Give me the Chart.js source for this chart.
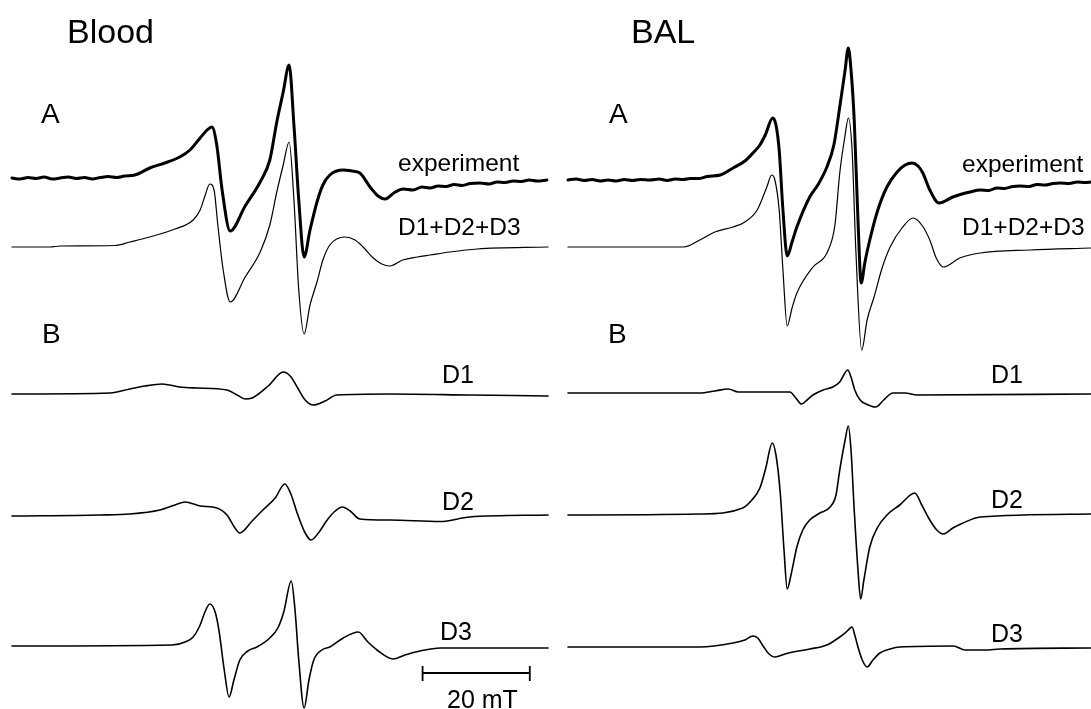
<!DOCTYPE html>
<html>
<head>
<meta charset="utf-8">
<script src="https://cdn.jsdelivr.net/npm/chart.js@4/dist/chart.umd.min.js"></script>
<style>
  html, body { margin: 0; padding: 0; background: #fff; }
  #wrap { position: relative; width: 1091px; height: 709px; }
</style>
</head>
<body>
<div id="wrap"><canvas id="epr" width="1091" height="709"></canvas></div>
<script>
// EPR spectra, field in mT (relative to start of sweep), amplitude in a.u.

// ---- Blood ----
let bloodExpField = [0, 1.5, 3, 4.5, 6, 7.5, 9, 10.5, 12, 13.5, 15, 16.5, 18, 19.5, 21, 22.9, 25.7, 28.5, 31.3, 33.2, 35.1, 36.4, 37.3, 38.2, 39.2, 40.7, 43.5, 46.3, 48.1, 49.4, 50.6, 51.7, 52.6, 53.5, 54.5, 55.6, 56.9, 58.0, 59.3, 61.8, 63.4, 64.9, 66.8, 68.3, 69.6, 71.5, 73, 74.8, 76.5, 78, 79.5, 81, 82.5, 84, 85.5, 87.3, 89, 90.5, 92, 93.5, 95, 96.5, 98, 99.8]
let bloodExpAmp   = [0, -1, 0.5, -0.5, 1, -1, 0, 1, -0.5, 0.5, -1, 0.5, 1.5, 0.5, 2, 3, 10, 15, 21, 28, 40, 48, 51, 33, -12, -53, -28, -4, 18, 56, 86, 113, 53, -22, -79, -52, -24, -7, 3, 8, 7, 5, -9, -18, -21, -14, -11, -12, -9, -10, -8, -8.5, -6.5, -7.5, -5.5, -5, -6, -4, -4.5, -3, -3.5, -2, -3, -2]

let bloodFitField = [0, 7.1, 9.0, 19.2, 22.0, 25.7, 30.4, 33.8, 35.1, 36.0, 36.9, 37.7, 38.4, 39.4, 40.7, 43.5, 46.3, 48.1, 49.4, 50.6, 51.7, 52.6, 53.5, 54.5, 55.6, 56.9, 58.0, 59.3, 62.1, 64.0, 65.5, 67.4, 69.0, 70.5, 72.9, 75.6, 78.0, 81.7, 86.8, 100]
let bloodFitAmp   = [0, 0, 1, 1.5, 5, 10, 18, 27, 37, 51, 63, 57, 22, -23, -55, -30, -5, 22, 55, 82, 105, 47, -43, -87, -58, -35, -13, 2, 10, 7, 0, -11, -17, -19, -13, -10, -8, -5, -2, 0]

let bloodD1Field = [0, 18.3, 22.0, 24.8, 28.0, 31.3, 34.5, 40.1, 42.0, 43.5, 44.8, 47.8, 50.6, 51.9, 53.2, 54.7, 56.2, 58.4, 60.6, 70.5, 85.4, 100]
let bloodD1Amp   = [-1, 0, 4, 7, 9, 6, 5, 3, -2, -6, -5, 7, 21, 17, 6, -7, -12, -8, -2, -1, -2, -3]

let bloodD2Field = [0, 16.4, 22.0, 27.6, 30.4, 32.3, 35.1, 38.2, 40.1, 41.6, 42.5, 44.8, 46.8, 49.1, 50.9, 52.1, 53.2, 54.7, 55.8, 57.3, 58.8, 60.3, 61.6, 63.1, 64.9, 70.5, 79.9, 85.4, 100]
let bloodD2Amp   = [-1, 0, 1, 5, 10, 13, 9, 7, 0, -13, -18, -6, 5, 17, 31, 20, 2, -18, -25, -17, -5, 4, 8, 4, -4, -5, -6.5, -2, 0]

let bloodD3Field = [0, 29.9, 32.3, 33.8, 35.1, 36.0, 36.9, 37.9, 38.6, 39.6, 40.5, 41.4, 42.5, 44.0, 45.7, 48.1, 49.6, 50.7, 52.1, 52.8, 53.5, 54.5, 55.4, 56.3, 57.8, 59.3, 61.8, 64.6, 66.4, 68.1, 71.1, 73.3, 76.1, 79.9, 100]
let bloodD3Amp   = [0, 1, 4, 9, 21, 34, 42, 34, 16, -24, -51, -34, -14, -5, -1, 8, 18, 34, 65, 36, -14, -62, -34, -14, -4, -1, 8, 14, 4, -4, -13, -9, -5, -2, -2]

// ---- BAL ----
let balExpField = [0, 1.5, 3, 4.5, 6, 7.5, 9, 10.5, 12, 13.5, 15.3, 17, 18.5, 20, 21.5, 22.8, 24.5, 26, 28.4, 30.8, 33.0, 34.5, 35.8, 36.8, 38.2, 38.8, 39.4, 40.1, 40.9, 41.8, 42.7, 45.1, 46.6, 48.3, 49.6, 50.7, 51.7, 52.3, 52.8, 53.4, 54.1, 54.7, 55.4, 56.3, 57.8, 59.5, 61.4, 62.9, 64.2, 65.3, 66.2, 67.5, 69.2, 71.8, 73.5, 75, 76.9, 78.5, 80, 81.5, 83, 84.3, 86, 87.5, 89, 90.5, 91.8, 93.5, 95, 96.5, 97.6]
let balExpAmp   = [0, 1, -0.5, 0.5, -1, 0, -1, 0.5, -0.5, 0.5, 0, 1, -0.5, 1, 0.5, 1.5, 1.5, 3.5, 5, 12, 19, 27, 35, 45, 62, 55, 30, -30, -76, -62, -47, -17, -5, 13, 35, 73, 110, 132, 110, 60, -40, -103, -82, -60, -30, -7, 8, 15, 17, 14, 7, -10, -23, -17, -14, -12, -10, -10.5, -8, -8.5, -6.5, -6, -6.5, -4.5, -5, -3.5, -3, -3.5, -2, -2.5, -2]

let balFitField = [0, 21.6, 24.6, 27.4, 30.8, 33.0, 35.3, 37.1, 38.0, 38.6, 39.4, 40.1, 40.9, 41.8, 42.7, 45.7, 48.3, 49.8, 50.7, 51.7, 52.3, 53.0, 53.7, 54.8, 55.8, 57.1, 58.6, 60.1, 62.3, 64.4, 66.0, 67.5, 68.7, 70.0, 73.1, 76.9, 86.2, 97.6]
let balFitAmp   = [0, 0, 7, 15, 20, 25, 37, 60, 72, 67, 37, -23, -79, -61, -46, -20, -6, 22, 74, 112, 129, 97, -3, -103, -73, -50, -21, 0, 19, 29, 22, 7, -11, -20, -11, -6, -3, -1]

let balD1Field = [0, 24.6, 27.4, 29.9, 31.8, 41.4, 42.5, 43.6, 44.6, 45.7, 47.6, 49.4, 50.7, 52.2, 52.8, 53.5, 54.5, 55.6, 57.4, 58.9, 60.6, 62.9, 65.1, 97.6]
let balD1Amp   = [0, 0, 2, 4, 1, 1, -5, -11, -7, -2, 3, 6, 11, 23, 16, 3, -7, -11, -14, -7, 0, 0, -2, -1]

let balD2Field = [0, 24.6, 32.6, 34.3, 35.8, 36.9, 38.1, 38.8, 39.6, 40.3, 40.9, 41.6, 42.7, 43.8, 45.1, 47.0, 48.9, 50.0, 50.7, 51.7, 52.3, 52.8, 53.4, 54.1, 54.6, 55.2, 56.3, 57.8, 59.5, 61.9, 64.7, 66.0, 67.5, 68.8, 70.0, 71.8, 73.7, 76.9, 97.6]
let balD2Amp   = [0, 1, 7, 15, 27, 47, 72, 60, 22, -35, -74, -60, -32, -15, -5, 2, 8, 20, 45, 75, 89, 65, 5, -55, -84, -65, -32, -12, 0, 10, 22, 10, -5, -15, -19, -13, -8, -2, 1]

let balD3Field = [0, 24.6, 30.8, 33.0, 34.5, 35.4, 36.4, 37.5, 38.6, 40.5, 42.0, 45.1, 48.3, 50.7, 51.9, 53.0, 53.5, 54.1, 54.9, 55.8, 56.9, 58.2, 60.1, 61.9, 71.9, 74.1, 77.8, 80.6, 97.6]
let balD3Amp   = [0, 0, 4, 7, 11, 9, 1, -7, -10, -7, -5, -2, 2, 10, 15, 20, 12, 0, -13, -20, -13, -6, -2, 0, 1, -3, -3, -2, -1]

// scale bar (mT)
let scaleBarStart = 76.6
let scaleBarLength = 20

// ---- layout: vertical offsets of each trace (px from top) ----
let bloodOffsets = { exp: 178, fit: 247, d1: 393, d2: 515, d3: 646 }
let balOffsets   = { exp: 180, fit: 247, d1: 393, d2: 515, d3: 647 }
let pxPerMT = 5.36
let bloodLeft = 12
let balLeft = 568
let W = 1091, H = 709

function trace(field, amp, offset, axis, width) {
    return {
        data: field.map((b, i) => ({ x: b, y: offset - amp[i] })),
        xAxisID: axis,
        borderColor: '#000',
        borderWidth: width,
        pointRadius: 0,
        fill: false,
        cubicInterpolationMode: 'monotone',
        borderJoinStyle: 'round',
        borderCapStyle: 'round'
    }
}

function straight(points, width) {
    return {
        data: points,
        xAxisID: 'xL',
        borderColor: '#000',
        borderWidth: width,
        pointRadius: 0,
        fill: false,
        tension: 0
    }
}

let datasets = [
    trace(bloodExpField, bloodExpAmp, bloodOffsets.exp, 'xL', 3),
    trace(bloodFitField, bloodFitAmp, bloodOffsets.fit, 'xL', 1.2),
    trace(bloodD1Field, bloodD1Amp, bloodOffsets.d1, 'xL', 1.6),
    trace(bloodD2Field, bloodD2Amp, bloodOffsets.d2, 'xL', 1.6),
    trace(bloodD3Field, bloodD3Amp, bloodOffsets.d3, 'xL', 1.6),
    trace(balExpField, balExpAmp, balOffsets.exp, 'xR', 3),
    trace(balFitField, balFitAmp, balOffsets.fit, 'xR', 1.2),
    trace(balD1Field, balD1Amp, balOffsets.d1, 'xR', 1.6),
    trace(balD2Field, balD2Amp, balOffsets.d2, 'xR', 1.6),
    trace(balD3Field, balD3Amp, balOffsets.d3, 'xR', 1.6),
    // 20 mT scale bar
    straight([{ x: scaleBarStart, y: 673 }, { x: scaleBarStart + scaleBarLength, y: 673 }], 1.8),
    straight([{ x: scaleBarStart, y: 666 }, { x: scaleBarStart, y: 681 }], 1.8),
    straight([{ x: scaleBarStart + scaleBarLength, y: 666 }, { x: scaleBarStart + scaleBarLength, y: 681 }], 1.8)
]

// text labels drawn on top
let labels = [
    { t: 'Blood', x: 67, y: 43, s: 34 },
    { t: 'BAL', x: 631, y: 43, s: 34 },
    { t: 'A', x: 41, y: 123, s: 28 },
    { t: 'B', x: 42, y: 343, s: 28 },
    { t: 'A', x: 609, y: 123, s: 28 },
    { t: 'B', x: 608, y: 343, s: 28 },
    { t: 'experiment', x: 398, y: 171, s: 24.5 },
    { t: 'D1+D2+D3', x: 398, y: 235, s: 24.5 },
    { t: 'experiment', x: 962, y: 172, s: 24.5 },
    { t: 'D1+D2+D3', x: 962, y: 235, s: 24.5 },
    { t: 'D1', x: 442, y: 383, s: 25 },
    { t: 'D2', x: 442, y: 510, s: 25 },
    { t: 'D3', x: 440, y: 640, s: 25 },
    { t: 'D1', x: 991, y: 383, s: 25 },
    { t: 'D2', x: 991, y: 508, s: 25 },
    { t: 'D3', x: 991, y: 642, s: 25 },
    { t: '20 mT', x: 447, y: 708, s: 25 }
]

let textPlugin = {
    id: 'textLabels',
    afterDraw(chart) {
        let ctx = chart.ctx
        ctx.save()
        ctx.fillStyle = '#000'
        ctx.textBaseline = 'alphabetic'
        ctx.textAlign = 'left'
        labels.forEach(l => {
            ctx.font = l.s + 'px "Liberation Sans", Arial, sans-serif'
            ctx.fillText(l.t, l.x, l.y)
        })
        ctx.restore()
    }
}

let ctx = document.querySelector('#epr').getContext('2d')
let eprChart = new Chart(ctx, {
    type: 'line',
    data: { datasets: datasets },
    options: {
        responsive: false,
        animation: false,
        devicePixelRatio: 1,
        layout: { padding: 0 },
        plugins: { legend: { display: false }, tooltip: { enabled: false } },
        scales: {
            xL: { type: 'linear', display: false, min: -bloodLeft / pxPerMT, max: (W - bloodLeft) / pxPerMT },
            xR: { type: 'linear', display: false, min: -balLeft / pxPerMT, max: (W - balLeft) / pxPerMT },
            y: { type: 'linear', display: false, reverse: true, min: 0, max: H }
        }
    },
    plugins: [textPlugin]
})
</script>
</body>
</html>
